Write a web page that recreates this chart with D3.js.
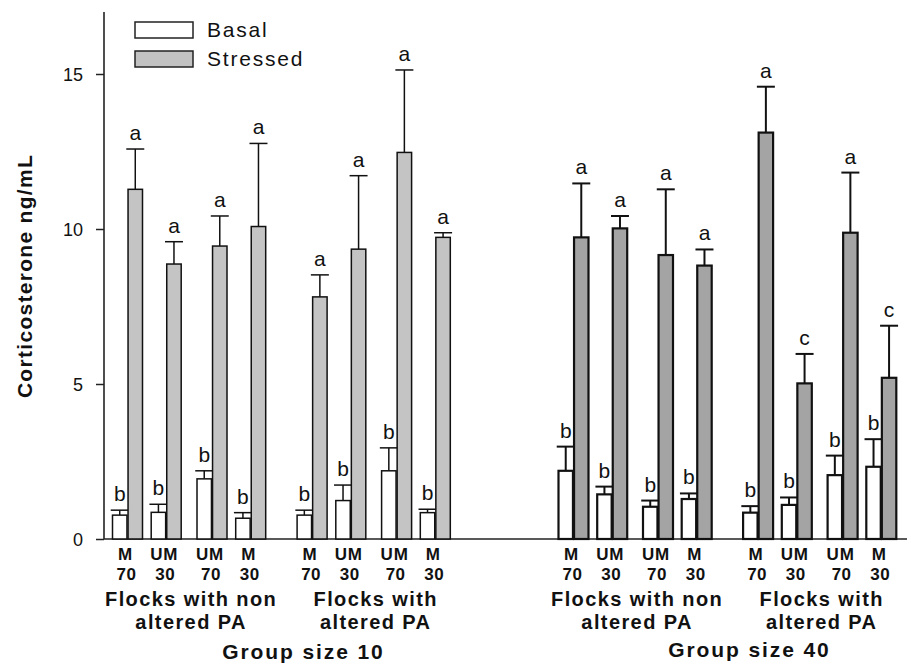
<!DOCTYPE html>
<html>
<head>
<meta charset="utf-8">
<script src="https://cdn.jsdelivr.net/npm/d3@7"></script>
<style>
  html, body { margin: 0; padding: 0; background: #fff; }
  svg { display: block; }
  text { font-family: Arial, "Liberation Sans", sans-serif; fill: #111; }
</style>
</head>
<body>
<svg id="chart" width="907" height="663"></svg>
<script>
// ---------------- data ----------------
const groups = ["Group size 10", "Group size 40"];
const subgroupLines = [["Flocks with non", "altered PA"], ["Flocks with", "altered PA"]];
const subgroups = ["non altered PA", "altered PA"];
const conditions = ["M 70", "UM 30", "UM 70", "M 30"];
const conditionTop = ["M", "UM", "UM", "M"];
const conditionBottom = ["70", "30", "70", "30"];
const seriesNames = ["Basal", "Stressed"];

// 16 pairs: group 10 (non altered, altered), group 40 (non altered, altered)
const basalMean = [0.77, 0.86, 1.94, 0.67, 0.77, 1.24, 2.20, 0.85, 2.20, 1.44, 1.04, 1.29, 0.85, 1.10, 2.06, 2.33];
const basalSE   = [0.16, 0.26, 0.26, 0.18, 0.16, 0.50, 0.74, 0.11, 0.78, 0.25, 0.20, 0.18, 0.21, 0.24, 0.63, 0.89];
const stressedMean = [11.28, 8.87, 9.45, 10.08, 7.81, 9.35, 12.47, 9.73, 9.73, 10.02, 9.16, 8.82, 13.11, 5.02, 9.88, 5.20];
const stressedSE   = [1.30, 0.72, 0.97, 2.68, 0.71, 2.37, 2.66, 0.15, 1.74, 0.40, 2.12, 0.52, 1.48, 0.95, 1.94, 1.68];
const basalLetters    = ["b","b","b","b","b","b","b","b","b","b","b","b","b","b","b","b"];
const stressedLetters = ["a","a","a","a","a","a","a","a","a","a","a","a","a","c","a","c"];
const yTicks = [0, 5, 10, 15];

// ---------------- build rows ----------------
const rows = [];
groups.forEach((g, gi) => subgroups.forEach((s, si) => conditions.forEach((c, ci) => {
  const i = gi * 8 + si * 4 + ci;
  rows.push({ i, group: g, gi, sub: s, si, cond: c, ci, series: "Basal", mean: basalMean[i], se: basalSE[i], letter: basalLetters[i] });
  rows.push({ i, group: g, gi, sub: s, si, cond: c, ci, series: "Stressed", mean: stressedMean[i], se: stressedSE[i], letter: stressedLetters[i] });
})));

// ---------------- scales ----------------
const svg = d3.select("#chart");
const y = d3.scaleLinear().domain([0, 17]).range([539, 12]);
const xGroup = d3.scalePoint().domain(groups).range([127.5, 573.5]);
const xSub = d3.scalePoint().domain(subgroups).range([0, 184.6]);
const xCond = d3.scaleOrdinal().domain(conditions).range([0, 38.7, 84.5, 123.2]);
const xSeries = d3.scaleBand().domain(seriesNames).range([-15, 15]).paddingInner(0.07);
const pairCenter = d => xGroup(d.group) + xSub(d.sub) + xCond(d.cond);
const barCenter = d => pairCenter(d) + xSeries(d.series) + xSeries.bandwidth() / 2;

const fillFor = d => d.series === "Basal" ? "#ffffff" : (d.gi === 0 ? "#c4c4c4" : "#a4a4a4");
const strokeW = d => d.gi === 0 ? 1.5 : 2.2;

// ---------------- axes ----------------
const yAxis = d3.axisLeft(y).tickValues(yTicks).tickSize(8).tickPadding(13).tickFormat(d3.format("d"));
const gy = svg.append("g").attr("transform", "translate(104,0)").call(yAxis);
gy.select(".domain").remove();
gy.selectAll(".tick line").attr("stroke", "#222").attr("stroke-width", 1.5);
gy.selectAll(".tick text").attr("font-size", 18).attr("font-family", "Arial, 'Liberation Sans', sans-serif").attr("fill", "#111").attr("dy", "0.34em");
svg.append("line").attr("x1", 104).attr("x2", 104).attr("y1", y(17)).attr("y2", y(0))
  .attr("stroke", "#222").attr("stroke-width", 1.6);
svg.append("line").attr("x1", 104).attr("x2", 907).attr("y1", y(0)).attr("y2", y(0))
  .attr("stroke", "#222").attr("stroke-width", 1.6);

svg.append("text")
  .attr("transform", `translate(32,${276}) rotate(-90)`)
  .attr("text-anchor", "middle")
  .attr("font-size", 21).attr("font-weight", "bold").attr("letter-spacing", "1.3px")
  .text("Corticosterone ng/mL");

// ---------------- bars ----------------
const barG = svg.append("g");
barG.selectAll("line.err").data(rows).join("line").attr("class", "err")
  .attr("x1", barCenter).attr("x2", barCenter)
  .attr("y1", d => y(d.mean)).attr("y2", d => y(d.mean + d.se))
  .attr("stroke", "#111").attr("stroke-width", d => d.gi === 0 ? 1.5 : 2);
barG.selectAll("line.cap").data(rows).join("line").attr("class", "cap")
  .attr("x1", d => barCenter(d) - 9).attr("x2", d => barCenter(d) + 9)
  .attr("y1", d => y(d.mean + d.se)).attr("y2", d => y(d.mean + d.se))
  .attr("stroke", "#111").attr("stroke-width", d => d.gi === 0 ? 1.5 : 2);
barG.selectAll("rect.bar").data(rows).join("rect").attr("class", "bar")
  .attr("x", d => pairCenter(d) + xSeries(d.series))
  .attr("width", xSeries.bandwidth())
  .attr("y", d => y(d.mean))
  .attr("height", d => y(0) - y(d.mean))
  .attr("fill", fillFor)
  .attr("stroke", "#111")
  .attr("stroke-width", strokeW);
barG.selectAll("text.sig").data(rows).join("text").attr("class", "sig")
  .attr("x", barCenter)
  .attr("y", d => y(d.mean + d.se) - 9)
  .attr("text-anchor", "middle")
  .attr("font-size", 21)
  .text(d => d.letter);

// ---------------- x labels ----------------
const pairs = rows.filter(d => d.series === "Basal");
svg.selectAll("text.ctop").data(pairs).join("text").attr("class", "ctop")
  .attr("x", d => pairCenter(d) - 2).attr("y", 560)
  .attr("text-anchor", "middle").attr("font-size", 17).attr("font-weight", "bold")
  .attr("letter-spacing", "0.8px")
  .text(d => conditionTop[d.ci]);
svg.selectAll("text.cbot").data(pairs).join("text").attr("class", "cbot")
  .attr("x", d => pairCenter(d) - 1).attr("y", 580)
  .attr("text-anchor", "middle").attr("font-size", 17).attr("font-weight", "bold")
  .attr("letter-spacing", "0.5px")
  .text(d => conditionBottom[d.ci]);

const subCenters = [];
groups.forEach((g, gi) => subgroups.forEach((s, si) => {
  const first = xGroup(g) + xSub(s) + xCond(conditions[0]);
  const last = xGroup(g) + xSub(s) + xCond(conditions[conditions.length - 1]);
  subCenters.push({ gi, si, cx: (first + last) / 2 });
}));
subCenters.forEach(sc => {
  subgroupLines[sc.si].forEach((line, li) => {
    svg.append("text")
      .attr("x", sc.cx + 2).attr("y", 606 + li * 23)
      .attr("text-anchor", "middle").attr("font-size", 20).attr("font-weight", "bold")
      .attr("letter-spacing", "1.4px")
      .text(line);
  });
});
groups.forEach((g, gi) => {
  const first = xGroup(g) + xSub(subgroups[0]) + xCond(conditions[0]);
  const last = xGroup(g) + xSub(subgroups[1]) + xCond(conditions[3]);
  svg.append("text")
    .attr("x", (first + last) / 2 + 22).attr("y", gi === 0 ? 659 : 657)
    .attr("text-anchor", "middle").attr("font-size", 21).attr("font-weight", "bold")
    .attr("letter-spacing", "1.9px")
    .text(g);
});

// ---------------- legend ----------------
const legend = svg.append("g");
const legendFill = ["#ffffff", "#c2c2c2"];
const legendY = [22, 51];
seriesNames.forEach((name, k) => {
  legend.append("rect").attr("x", 135).attr("y", legendY[k]).attr("width", 58).attr("height", 16)
    .attr("fill", legendFill[k]).attr("stroke", "#222").attr("stroke-width", 1.5);
  legend.append("text").attr("x", 207).attr("y", legendY[k] + 15)
    .attr("font-size", 21).attr("letter-spacing", "1.8px").text(name);
});
</script>
</body>
</html>
